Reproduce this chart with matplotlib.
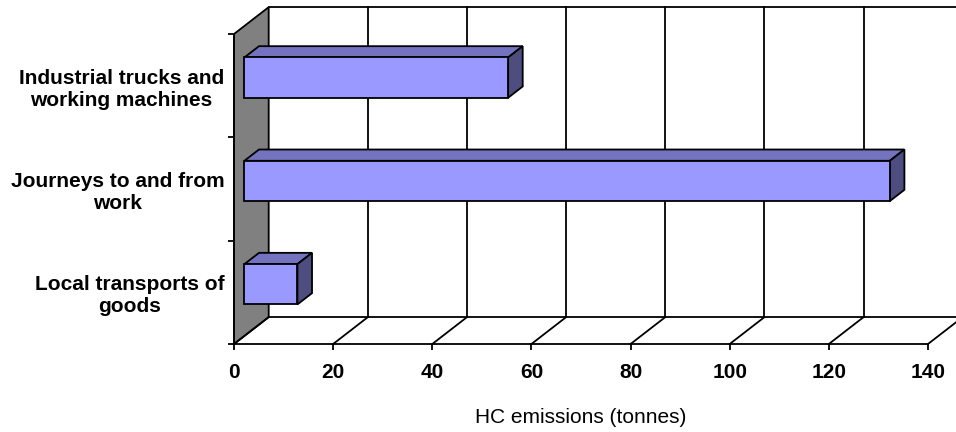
import matplotlib
matplotlib.use('Agg')
import matplotlib.pyplot as plt
from matplotlib.patches import Polygon

# 数据
categories = ['Local transports of\ngoods',
              'Journeys to and from\nwork',
              'Industrial trucks and\nworking machines']
hc_tonnes = [10.7, 130.2, 53.2]
x_ticks = [0, 20, 40, 60, 80, 100, 120, 140]
x_label = 'HC emissions (tonnes)'

# 伪 3D 外观参数
DX, DY = 7.0, 0.26          # 深度偏移 (数据单位)
BAR_FRONT, BAR_DEPTH = 0.3, 0.42
BAR_H = 0.39
FRONT, TOP, SIDE = '#9999ff', '#7373bf', '#4d4d80'
WALL = '#808080'
LW = 1.3

plt.rcParams['font.family'] = ['Liberation Sans', 'DejaVu Sans']

fig = plt.figure(figsize=(9.56, 4.32), dpi=100)
ax = fig.add_axes([234 / 956, 88 / 432, 694 / 956, 310 / 432])
n = len(categories)
xmax = x_ticks[-1]
ax.set_xlim(0, xmax)
ax.set_ylim(0, n)

# 左侧灰色墙
ax.add_patch(Polygon([(0, 0), (0, n), (DX, n + DY), (DX, DY)], closed=True,
                     fc=WALL, ec='black', lw=LW, clip_on=False, zorder=1))

# 背墙: 顶边与竖向网格线
ax.plot([DX, xmax + DX + 2], [n + DY, n + DY], color='black', lw=LW, clip_on=False, zorder=1)
for v in x_ticks[1:]:
    ax.plot([v + DX, v + DX], [DY, n + DY], color='black', lw=LW, clip_on=False, zorder=1)

# 地面: 后边与斜线
ax.plot([DX, xmax + DX + 2], [DY, DY], color='black', lw=LW, clip_on=False, zorder=1)
for v in x_ticks:
    ax.plot([v, v + DX], [0, DY], color='black', lw=LW, clip_on=False, zorder=1)

# 立体条形
ddx, ddy = BAR_DEPTH * DX, BAR_DEPTH * DY
x0 = BAR_FRONT * DX
for i, val in enumerate(hc_tonnes):
    yc = i + 0.5 + BAR_FRONT * DY
    y0, y1 = yc - BAR_H / 2, yc + BAR_H / 2
    ax.add_patch(Polygon([(x0, y1), (x0 + val, y1), (x0 + val + ddx, y1 + ddy), (x0 + ddx, y1 + ddy)],
                         closed=True, fc=TOP, ec='black', lw=LW, clip_on=False, zorder=3))
    ax.add_patch(Polygon([(x0 + val, y0), (x0 + val + ddx, y0 + ddy), (x0 + val + ddx, y1 + ddy), (x0 + val, y1)],
                         closed=True, fc=SIDE, ec='black', lw=LW, clip_on=False, zorder=3))
    ax.barh(yc, val, left=x0, height=BAR_H, color=FRONT, edgecolor='black', lw=LW, zorder=4)

# 坐标轴
for s in ['top', 'right']:
    ax.spines[s].set_visible(False)
for s in ['left', 'bottom']:
    ax.spines[s].set_linewidth(LW)

ax.set_xticks(x_ticks)
ax.set_xticklabels([str(v) for v in x_ticks], fontsize=15, fontweight='bold')
ax.tick_params(axis='x', direction='out', length=4.5, width=LW, pad=9)

ax.set_yticks(range(n + 1))
ax.set_yticklabels([''] * (n + 1))
ax.set_yticks([i + 0.5 for i in range(n)], minor=True)
ax.set_yticklabels(categories, minor=True, fontsize=15, fontweight='bold')
ax.tick_params(axis='y', which='major', direction='out', length=4.5, width=LW)
ax.tick_params(axis='y', which='minor', length=0, pad=7)
for lab in ax.get_yticklabels(minor=True):
    lab.set_multialignment('center')

ax.set_xlabel(x_label, fontsize=15, labelpad=19)

fig.savefig('out.png', dpi=100)
